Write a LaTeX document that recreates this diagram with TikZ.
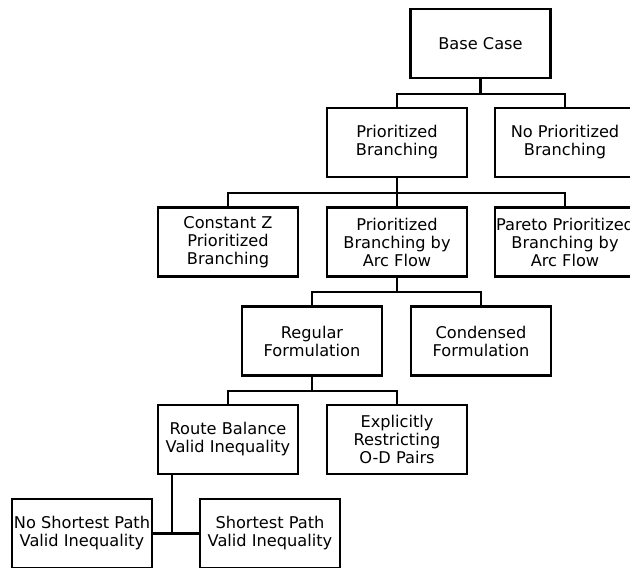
\documentclass[tikz,border=0pt]{standalone}
\usepackage{fontspec}
\newfontfamily\scenariofont{DejaVu Sans}
\usetikzlibrary{positioning}
\newlength{\basisscenariotree}
\setlength{\basisscenariotree}{1pt}
\tikzset{
    scenario/.style={draw, line width=2.3\basisscenariotree, minimum width=140\basisscenariotree,
        minimum height=69\basisscenariotree, inner sep=0pt, align=center,
        font=\scenariofont\fontsize{16.2}{18}\selectfont},
    branch/.style={line width=2.3\basisscenariotree}
}
\begin{document}
\begin{tikzpicture}
    \useasboundingbox (0,0) rectangle (630\basisscenariotree,-568\basisscenariotree);
    \clip (0,0) rectangle (630\basisscenariotree,-568\basisscenariotree);

    \draw (480.5\basisscenariotree,-43.5\basisscenariotree) 
		node[scenario] 
			(base-case) {Base Case};

    \draw (397\basisscenariotree,-142.5\basisscenariotree) 
		node[scenario] 
			(prioritized-branching) {Prioritized\\Branching};

    \draw (565\basisscenariotree,-142.5\basisscenariotree) 
		node[scenario] 
			(no-prioritized-branching) {No Prioritized\\Branching};

    \draw (228\basisscenariotree,-242\basisscenariotree) 
		node[scenario] 
			(constant-z) {Constant Z\\Prioritized\\Branching};

    \draw (397\basisscenariotree,-242\basisscenariotree) 
		node[scenario] 
			(arc-flow) {Prioritized\\Branching by\\Arc Flow};

    \draw (565\basisscenariotree,-242\basisscenariotree) 
		node[scenario] 
			(pareto-arc-flow) {Pareto Prioritized\\Branching by\\Arc Flow};

    \draw (312\basisscenariotree,-341\basisscenariotree) 
		node[scenario] 
			(regular-formulation) {Regular\\Formulation};

    \draw (481\basisscenariotree,-341\basisscenariotree) 
		node[scenario] 
			(condensed-formulation) {Condensed\\Formulation};

    \draw (228\basisscenariotree,-439.5\basisscenariotree) 
		node[scenario] 
			(route-balance) {Route Balance\\Valid Inequality};

    \draw (397\basisscenariotree,-439.5\basisscenariotree) 
		node[scenario] 
			(restricting-od) {Explicitly\\Restricting\\O-D Pairs};

    \draw (82\basisscenariotree,-533.5\basisscenariotree) 
		node[scenario] 
			(no-shortest-path) {No Shortest Path\\Valid Inequality};

    \draw (270\basisscenariotree,-533.5\basisscenariotree) 
		node[scenario] 
			(shortest-path) {Shortest Path\\Valid Inequality};

    \coordinate (shortest-path-junction) at (172\basisscenariotree,-533.5\basisscenariotree);


	\draw[branch] (base-case.south) -- ++(0,-15\basisscenariotree) -| (prioritized-branching.north);
	\draw[branch] (base-case.south) -- ++(0,-15\basisscenariotree) -| (no-prioritized-branching.north);
	\draw[branch] (prioritized-branching.south) -- ++(0,-15\basisscenariotree) -| (constant-z.north);
	\draw[branch] (prioritized-branching.south) -- (arc-flow.north);
	\draw[branch] (prioritized-branching.south) -- ++(0,-15\basisscenariotree) -| (pareto-arc-flow.north);
	\draw[branch] (arc-flow.south) -- ++(0,-14.5\basisscenariotree) -| (regular-formulation.north);
	\draw[branch] (arc-flow.south) -- ++(0,-14.5\basisscenariotree) -| (condensed-formulation.north);
	\draw[branch] (regular-formulation.south) -- ++(0,-14.5\basisscenariotree) -| (route-balance.north);
	\draw[branch] (regular-formulation.south) -- ++(0,-14.5\basisscenariotree) -| (restricting-od.north);
	\draw[branch] (shortest-path-junction |- route-balance.south) -- (shortest-path-junction);
	\draw[branch] (no-shortest-path.east) -- (shortest-path.west);
\end{tikzpicture}
\end{document}
